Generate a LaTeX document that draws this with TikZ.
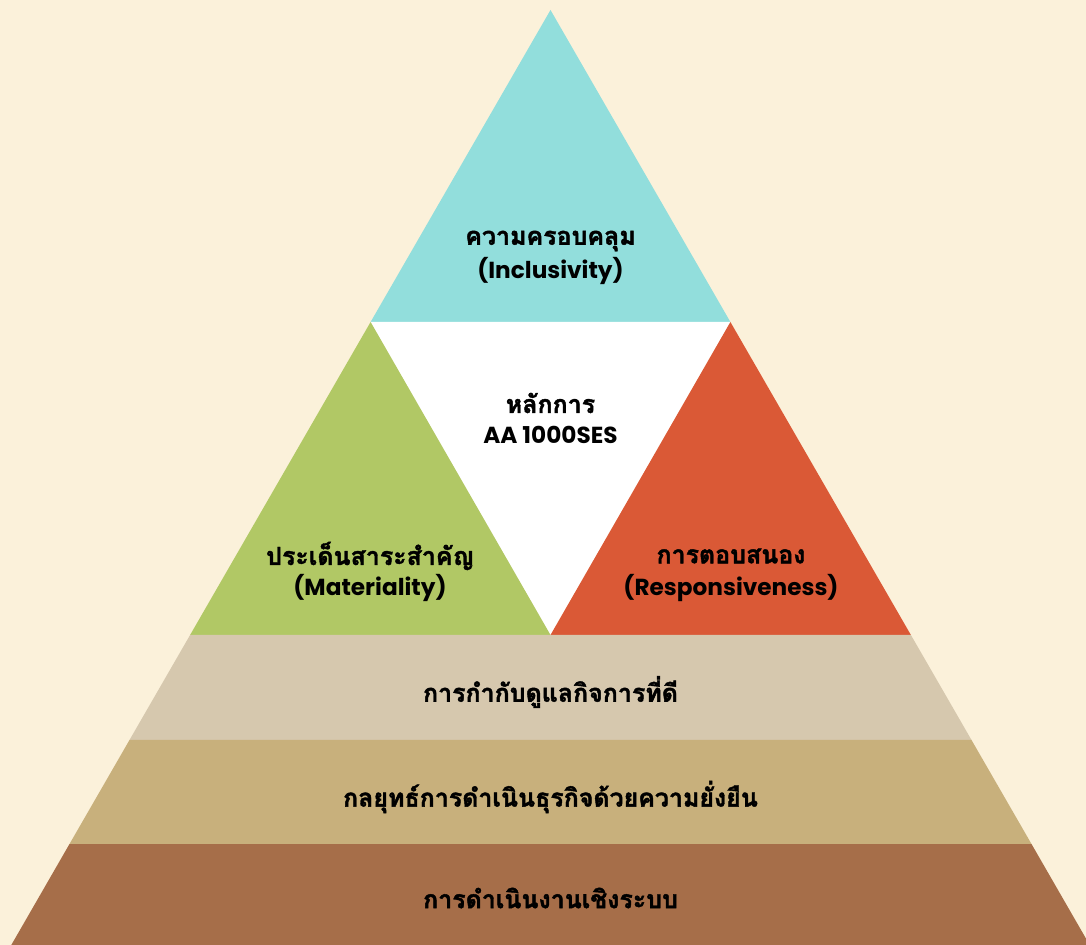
\documentclass[tikz,border=0pt]{standalone}
\usepackage{fontspec}
\setmainfont{Poppins}
\newfontfamily\thaifont[Script=Thai, FakeBold=1.6]{Loma}
\definecolor{bgcream}{HTML}{FBF1DA}
\definecolor{incl}{HTML}{92DEDC}
\definecolor{mater}{HTML}{B1C865}
\definecolor{respo}{HTML}{DA5936}
\definecolor{govern}{HTML}{D6C8AE}
\definecolor{strat}{HTML}{C8B07C}
\definecolor{system}{HTML}{A66E49}
\tikzset{
  lbl/.style={align=center, text=black, font=\bfseries\fontsize{13.2}{16}\selectfont, inner sep=0pt},
  thai/.style={lbl, font=\thaifont\bfseries\fontsize{14.2}{16}\selectfont}
}
\begin{document}
\begin{tikzpicture}[x=0.02cm, y=-0.02cm]
            \useasboundingbox (0,0) rectangle (1086,945);
            \fill[bgcream] (0,0) rectangle (1086,945);
            \def\apex{550.5}
            \coordinate (Top) at (\apex, 10);
            \coordinate (TopL) at (370.6, 322);
            \coordinate (TopR) at (730.4, 322);
            \coordinate (MidL) at (190.1, 635);
            \coordinate (MidC) at (\apex, 635);
            \coordinate (MidR) at (910.9, 635);
            \coordinate (GovL) at (129.5, 740);
            \coordinate (GovR) at (971.5, 740);
            \coordinate (StrL) at (69.5, 844);
            \coordinate (StrR) at (1031.5, 844);
            \coordinate (BotL) at (11.3, 945);
            \coordinate (BotR) at (1089.7, 945);
            \fill[incl] (Top) -- (TopR) -- (TopL) -- cycle;
            \fill[white] (TopL) -- (TopR) -- (MidC) -- cycle;
            \fill[mater] (TopL) -- (MidC) -- (MidL) -- cycle;
            \fill[respo] (TopR) -- (MidR) -- (MidC) -- cycle;
            \fill[govern] (MidL) -- (MidR) -- (GovR) -- (GovL) -- cycle;
            \fill[strat] (GovL) -- (GovR) -- (StrR) -- (StrL) -- cycle;
            \fill[system] (StrL) -- (StrR) -- (BotR) -- (BotL) -- cycle;
            \node[thai] (InclTh) at (\apex, 241) {ความครอบคลุม};
            \node[lbl] (InclEn) at (\apex, 271) {(Inclusivity)};
            \node[thai] (CoreTh) at (\apex, 403) {หลักการ};
            \node[lbl] (CoreEn) at (\apex, 435) {AA 1000SES};
            \node[thai] (MaterTh) at (370, 556) {ประเด็นสาระสำคัญ};
            \node[lbl] (MaterEn) at (370, 588) {(Materiality)};
            \node[thai] (RespoTh) at (731, 556) {การตอบสนอง};
            \node[lbl] (RespoEn) at (731, 588) {(Responsiveness)};
            \node[thai] (Govern) at (\apex, 692) {การกำกับดูแลกิจการที่ดี};
            \node[thai] (Strat) at (\apex, 797) {กลยุทธ์การดำเนินธุรกิจด้วยความยั่งยืน};
            \node[thai] (System) at (\apex, 898) {การดำเนินงานเชิงระบบ};
        \end{tikzpicture}
\end{document}
